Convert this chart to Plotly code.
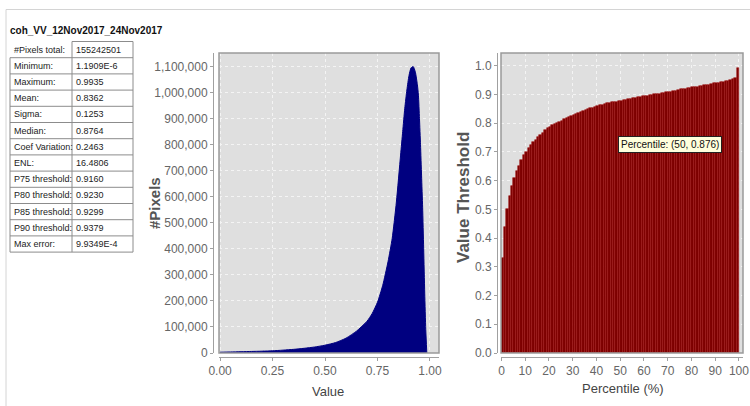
import plotly.graph_objects as go

W, H = 750, 406

# ---------------- data ----------------
title_text = "coh_VV_12Nov2017_24Nov2017"
stat_labels = ["#Pixels total:", "Minimum:", "Maximum:", "Mean:", "Sigma:", "Median:",
               "Coef Variation:", "ENL:", "P75 threshold:", "P80 threshold:",
               "P85 threshold:", "P90 threshold:", "Max error:"]
stat_values = ["155242501", "1.1909E-6", "0.9935", "0.8362", "0.1253", "0.8764",
               "0.2463", "16.4806", "0.9160", "0.9230", "0.9299", "0.9379", "9.9349E-4"]

hist_x = [0.0, 0.05, 0.1, 0.15, 0.2, 0.25, 0.3, 0.35, 0.4, 0.45, 0.5, 0.55, 0.6, 0.65,
          0.7, 0.725, 0.75, 0.775, 0.8, 0.82, 0.84, 0.86, 0.87, 0.88, 0.89, 0.9, 0.91,
          0.92, 0.93, 0.94, 0.945, 0.95, 0.955, 0.96, 0.965, 0.97, 0.975, 0.98, 0.985]
hist_y = [3000, 4000, 5000, 6000, 7000, 8500, 11000, 14000, 18000, 23000, 30000, 40000,
          57000, 84000, 122000, 152000, 195000, 260000, 350000, 440000, 580000, 760000,
          850000, 940000, 1010000, 1065000, 1095000, 1100000, 1080000, 1030000, 990000,
          900000, 800000, 680000, 560000, 400000, 230000, 90000, 0]

percentiles = list(range(1, 101))
thresholds = [0.330, 0.437, 0.500, 0.545, 0.580, 0.608, 0.632, 0.652, 0.670, 0.688,
              0.701, 0.713, 0.723, 0.733, 0.742, 0.751, 0.759, 0.767, 0.775, 0.782,
              0.787, 0.792, 0.796, 0.801, 0.805, 0.809, 0.813, 0.817, 0.821, 0.825,
              0.829, 0.832, 0.836, 0.839, 0.842, 0.845, 0.848, 0.851, 0.854, 0.857,
              0.859, 0.862, 0.864, 0.867, 0.869, 0.870, 0.872, 0.873, 0.875, 0.876,
              0.878, 0.880, 0.881, 0.883, 0.885, 0.886, 0.888, 0.890, 0.891, 0.893,
              0.894, 0.895, 0.897, 0.898, 0.900, 0.901, 0.902, 0.904, 0.905, 0.907,
              0.908, 0.910, 0.911, 0.913, 0.916, 0.917, 0.918, 0.920, 0.921, 0.923,
              0.924, 0.926, 0.927, 0.928, 0.930, 0.931, 0.933, 0.934, 0.936, 0.938,
              0.939, 0.941, 0.942, 0.944, 0.946, 0.948, 0.950, 0.952, 0.956, 0.993]

hist_yticks = list(range(0, 1100001, 100000))
hist_xticks = [0.0, 0.25, 0.5, 0.75, 1.0]
perc_xticks = list(range(0, 101, 10))
perc_yticks = [round(i * 0.1, 1) for i in range(11)]
tooltip_text = "Percentile: (50, 0.876)"

# ---------------- helpers ----------------
def px(x):
    return x / W

def py(y):
    return 1 - y / H

SANS = "Liberation Sans, Arial, sans-serif"
TICKFONT = dict(family=SANS, size=12, color="#666666")
BG = "#dfdfdf"
AXC = "#a0a0a0"

fig = go.Figure()

fig.add_trace(go.Scatter(x=hist_x, y=hist_y, mode="lines", fill="tozeroy",
                         line=dict(color="#000080", width=1, shape="spline", smoothing=0.6),
                         fillcolor="#000080", xaxis="x", yaxis="y", hoverinfo="skip",
                         showlegend=False))

fig.add_trace(go.Bar(x=percentiles, y=thresholds, width=1, offset=-1,
                     marker=dict(color="#7d0000", line=dict(color="#a31a1a", width=0.6)),
                     xaxis="x2", yaxis="y2", showlegend=False, hoverinfo="skip"))

# plot area pixel boxes
L1, R1, T1, B1 = 219, 439, 53, 353
L2, R2, T2, B2 = 501, 743, 53, 353

common = dict(ticks="outside", ticklen=3, tickcolor=AXC, showline=True, linecolor=AXC,
              linewidth=1, tickfont=TICKFONT, showgrid=True, gridcolor="#f4f4f4",
              griddash="dot", gridwidth=1, zeroline=False, automargin=False)

fig.update_layout(
    width=W, height=H, margin=dict(l=0, r=0, t=0, b=0, autoexpand=False),
    paper_bgcolor="white", plot_bgcolor=BG, bargap=0,
    xaxis=dict(domain=[px(L1), px(R1)], range=[-0.005, 1.043], anchor="free",
               position=py(357), tickvals=hist_xticks, tickformat=".2f", **common),
    yaxis=dict(domain=[py(B1), py(T1)], range=[0, 1152000], anchor="free",
               position=px(213), tickvals=hist_yticks, tickformat=",d", **common),
    xaxis2=dict(domain=[px(L2), px(R2)], range=[-0.2, 101.7], anchor="free",
                position=py(357), tickvals=perc_xticks, **common),
    yaxis2=dict(domain=[py(B2), py(T2)], range=[0, 1.044], anchor="free",
                position=px(497), tickvals=perc_yticks, tickformat=".1f", **common),
)

shapes = []
# plot-area borders
for (l, r, t, b) in [(L1, R1, T1, B1), (L2, R2, T2, B2)]:
    shapes.append(dict(type="rect", xref="paper", yref="paper", x0=px(l), x1=px(r),
                       y0=py(b), y1=py(t), line=dict(color="#9a9a9a", width=1.5),
                       layer="above"))
# outer frame lines
shapes.append(dict(type="line", xref="paper", yref="paper", x0=px(6), x1=px(750),
                   y0=py(9.5), y1=py(9.5), line=dict(color="#d4d4d4", width=1)))
shapes.append(dict(type="line", xref="paper", yref="paper", x0=px(6), x1=px(6),
                   y0=py(9.5), y1=py(406), line=dict(color="#d4d4d4", width=1)))

# table
tL, tM, tR = 10, 72, 133
tTop, rowH = 41.5, 16.2
n = len(stat_labels)
tBot = tTop + n * rowH
for i in range(n + 1):
    yy = tTop + i * rowH
    x0 = tM if i == 0 else tL
    shapes.append(dict(type="line", xref="paper", yref="paper", x0=px(x0), x1=px(tR),
                       y0=py(yy), y1=py(yy), line=dict(color="#8c8c8c", width=1)))
for xx in [tL, tM, tR]:
    y0 = tTop + rowH if xx == tL else tTop
    shapes.append(dict(type="line", xref="paper", yref="paper", x0=px(xx), x1=px(xx),
                       y0=py(y0), y1=py(tBot), line=dict(color="#8c8c8c", width=1)))
fig.update_layout(shapes=shapes)

ann = []

def add_text(text, x, y, font, xanchor="center", yanchor="middle", **kw):
    ann.append(dict(text=text, x=px(x), y=py(y), xref="paper", yref="paper",
                    xanchor=xanchor, yanchor=yanchor, showarrow=False, font=font, **kw))

add_text("<b>" + title_text + "</b>", 8, 30, dict(family=SANS, size=10, color="#111"),
         xanchor="left")
TF = dict(family=SANS, size=9, color="#222")
for i, (lab, val) in enumerate(zip(stat_labels, stat_values)):
    yc = tTop + (i + 0.5) * rowH
    add_text(lab, tL + 2, yc, TF, xanchor="left")
    add_text(val, tM + 2, yc, TF, xanchor="left")

add_text("Value", 328, 391, dict(family=SANS, size=13, color="#444"))
add_text("Percentile (%)", 623, 388, dict(family=SANS, size=13, color="#444"))
add_text("<b>#Pixels</b>", 154, 203, dict(family=SANS, size=15, color="#555"), textangle=-90)
add_text("<b>Value Threshold</b>", 464, 198, dict(family=SANS, size=17, color="#555"),
         textangle=-90)
add_text(tooltip_text, 670, 144.5, dict(family=SANS, size=10, color="#111"),
         bgcolor="#ffffdc", bordercolor="#222", borderwidth=1, borderpad=2)
fig.update_layout(annotations=ann)

fig.write_html("out.html", config={"displayModeBar": False},
               post_script="document.body.style.margin='0px';document.body.style.padding='0px';")
